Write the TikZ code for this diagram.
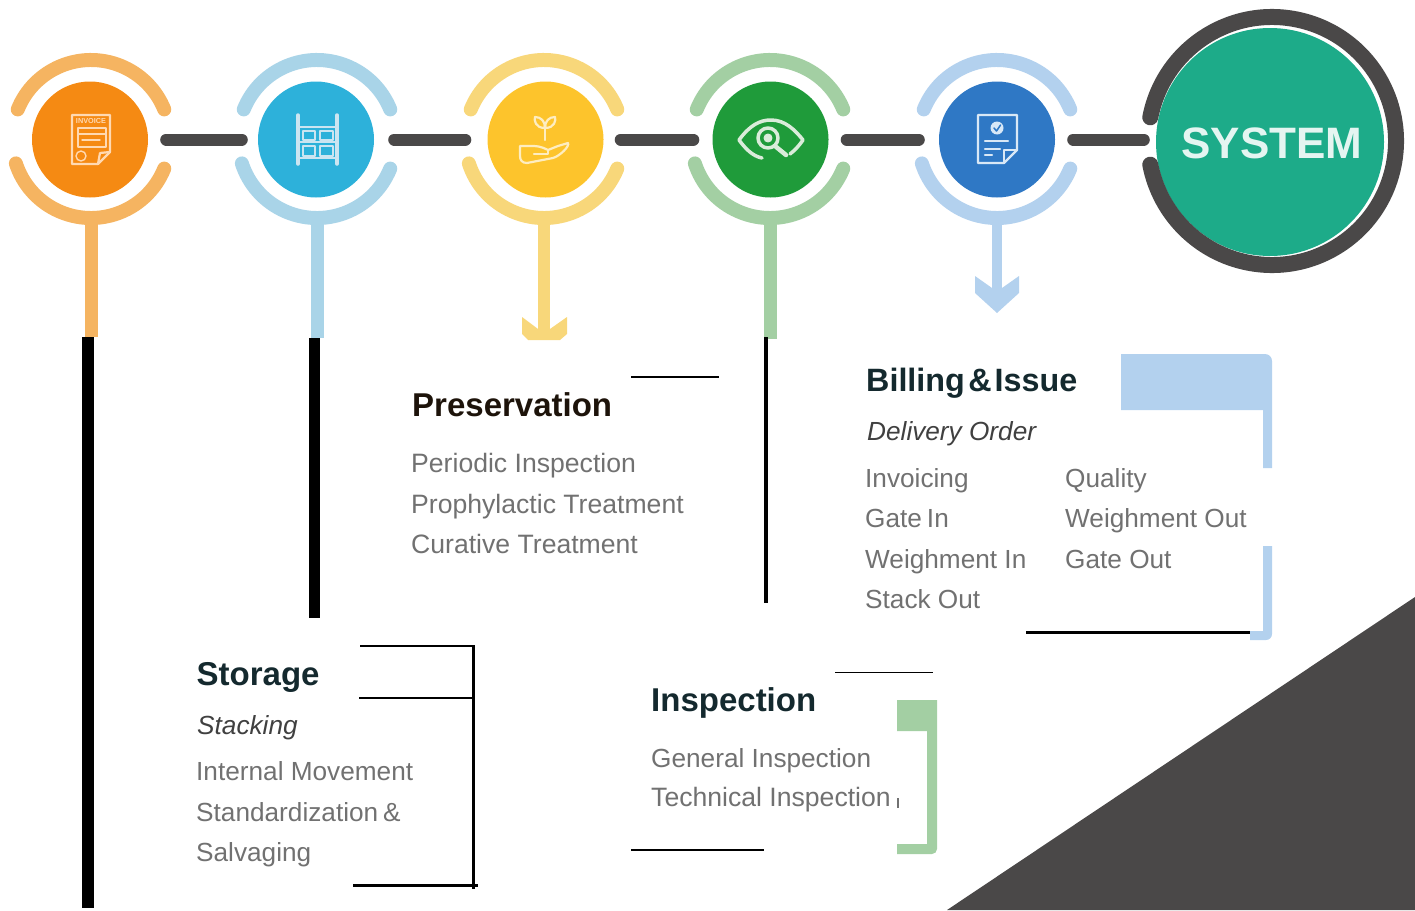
\documentclass[tikz,border=0pt]{standalone}
\usepackage{fontspec}
\setmainfont{Liberation Sans}
\definecolor{linkdark}{HTML}{4A4848}
\definecolor{orangefill}{HTML}{F58A13}
\definecolor{orangering}{HTML}{F5B461}
\definecolor{skyfill}{HTML}{2DB1DA}
\definecolor{skyring}{HTML}{A9D4E8}
\definecolor{yellowfill}{HTML}{FDC42C}
\definecolor{yellowring}{HTML}{F8D77A}
\definecolor{greenfill}{HTML}{1F9B3A}
\definecolor{greenring}{HTML}{A3CFA3}
\definecolor{bluefill}{HTML}{2F78C5}
\definecolor{bluering}{HTML}{B3D1EE}
\definecolor{systemfill}{HTML}{1DAB89}
\definecolor{titledark}{HTML}{14292E}
\definecolor{bodygrey}{HTML}{717171}
\begin{document}
\begin{tikzpicture}[x=1pt, y=1pt,
		disc/.style={circle, minimum size=116pt, inner sep=0pt},
		ring/.style={line width=14pt, line cap=round},
		stem/.style={line width=12.5pt, shorten <=20pt},
		link/.style={linkdark, line width=12pt, line cap=round},
		icon/.style={line width=2.2pt, line join=round, line cap=round},
		title/.style={anchor=base west, inner sep=0pt, text=titledark, font=\fontsize{33}{38}\selectfont\bfseries},
		subtitle/.style={anchor=base west, inner sep=0pt, text=black!75, font=\fontsize{26.2}{31}\selectfont\itshape},
		body/.style={anchor=base west, inner sep=0pt, text=bodygrey, font=\fontsize{26.6}{31}\selectfont},
		bodyright/.style={body, font=\fontsize{26.2}{31}\selectfont}]
		\useasboundingbox (0,0) rectangle (1415,-910);
		% Corner triangle
		\fill[linkdark] (947,-910) -- (1415,-597) -- (1415,-910) -- cycle;
		% Circles
		\node[disc, fill=orangefill] (invoice) at (90,-139.5) {};
		\node[disc, fill=skyfill] (storage) at (316,-139.5) {};
		\node[disc, fill=yellowfill] (preservation) at (545.5,-139.5) {};
		\node[disc, fill=greenfill] (inspection) at (770.5,-139.5) {};
		\node[disc, fill=bluefill] (billing) at (997,-139.5) {};
		\node[disc, minimum size=228pt, fill=systemfill] (system) at (1270,-142) {};
		\node[text=white!88!systemfill, inner sep=0pt, font=\fontsize{44}{50}\selectfont\bfseries] (systemword) at (1272,-143) {SYSTEM};
		% Rings
		\draw[ring, orangering] (91,-139) ++(158:79) arc (158:22:79);
		\draw[ring, orangering] (91,-139) ++(198:79) arc (198:338:79);
		\draw[ring, skyring] (317,-139) ++(158:79) arc (158:22:79);
		\draw[ring, skyring] (317,-139) ++(198:79) arc (198:338:79);
		\draw[ring, yellowring] (544,-139) ++(158:79) arc (158:22:79);
		\draw[ring, yellowring] (544,-139) ++(198:79) arc (198:338:79);
		\draw[ring, greenring] (770,-139) ++(158:79) arc (158:22:79);
		\draw[ring, greenring] (770,-139) ++(198:79) arc (198:338:79);
		\draw[ring, bluering] (997,-139) ++(158:79) arc (158:22:79);
		\draw[ring, bluering] (997,-139) ++(198:79) arc (198:338:79);
		\draw[linkdark, line width=16pt, line cap=round] (1272,-141) ++(169:124) arc (169:-169:124);
		% Links
		\draw[link, shorten <=18pt, shorten >=16pt] (invoice) -- (storage);
		\draw[link, shorten <=20pt, shorten >=22pt] (storage) -- (preservation);
		\draw[link, shorten <=17pt, shorten >=19pt] (preservation) -- (inspection);
		\draw[link, shorten <=18pt, shorten >=20pt] (inspection) -- (billing);
		\draw[link, shorten <=18pt, shorten >=12pt] (billing) -- (billing -| system.west);
		% Stems
		\coordinate (invoicefoot) at (91.5,-337);
		\coordinate (storagefoot) at (317.5,-338);
		\coordinate (preservationfoot) at (544,-330);
		\coordinate (inspectionfoot) at (770.5,-339);
		\coordinate (billingfoot) at (997,-295);
		\draw[stem, orangering] (invoicefoot |- invoice.south) -- (invoicefoot);
		\draw[stem, skyring] (storagefoot |- storage.south) -- (storagefoot);
		\draw[stem, yellowring] (preservationfoot |- preservation.south) -- (preservationfoot);
		\draw[stem, greenring] (inspectionfoot |- inspection.south) -- (inspectionfoot);
		\draw[stem, bluering, line width=10pt] (billingfoot |- billing.south) -- (billingfoot);
		\fill[yellowring] (522,-317) -- (538,-329) -- (550,-329) -- (567,-317) -- (567,-334) -- (560,-340) -- (528,-340) -- (522,-334) -- cycle;
		\fill[bluering] (975,-276) -- (992,-288) -- (1002,-288) -- (1019,-276) -- (1019,-293) -- (997,-313) -- (975,-293) -- cycle;
		% Black bars
		\draw[black, line width=12pt] (88,-337) -- (88,-908);
		\draw[black, line width=11pt] (314.5,-338) -- (314.5,-618);
		\draw[black, line width=3.5pt] (766,-337) -- (766,-603);
		% Icon on first circle
		\begin{scope}[icon, draw=orange!30!white]
			\draw (72,-115) -- (110,-115) -- (110,-152) -- (98,-164) -- (72,-164) -- cycle;
			\draw (110,-152) -- (100,-153) -- (98,-164);
			\node[inner sep=0pt, text=orange!30!white, font=\fontsize{7.3}{8}\selectfont\bfseries] (invoiceword) at (91,-121) {INVOICE};
			\draw[line width=1.4pt] (78,-128) rectangle (106,-147);
			\draw[line width=1.4pt] (78,-134) -- (106,-134) (82,-140) -- (100,-140);
			\draw[line width=1.4pt] (81,-156) circle (5);
		\end{scope}
		% Icon on second circle
		\begin{scope}[icon, draw=skyring!60!white]
			\draw[line width=3.5pt] (298,-115) -- (298,-164) (337,-115) -- (337,-164);
			\draw (298,-127) -- (337,-127) (298,-142) -- (337,-142) (298,-158) -- (337,-158);
			\draw[line width=1.8pt] (303,-131) rectangle (315,-140) (320,-131) rectangle (333,-140);
			\draw[line width=1.8pt] (303,-146) rectangle (315,-156) (320,-146) rectangle (333,-156);
		\end{scope}
		% Icon on third circle
		\begin{scope}[icon, draw=yellowfill!30!white]
			\draw (545,-140) -- (545,-125);
			\draw (545,-128) .. controls (535,-128) and (534,-120) .. (535,-117) .. controls (541,-117) and (545,-121) .. (545,-128);
			\draw (545,-128) .. controls (555,-128) and (556,-120) .. (555,-117) .. controls (549,-117) and (545,-121) .. (545,-128);
			\draw (520,-146) -- (534,-146) .. controls (540,-146) and (546,-149) .. (548,-150) -- (558,-146) -- (568,-143) .. controls (570,-146) and (560,-156) .. (553,-158) -- (527,-163) .. controls (522,-163) and (520,-160) .. (520,-156) -- cycle;
			\draw (534,-154) -- (548,-154) -- (548,-150);
		\end{scope}
		% Icon on fourth circle
		\begin{scope}[icon, draw=greenring!40!white, line width=3.5pt]
			\draw (762,-158) .. controls (752,-156) and (745,-148) .. (739,-140) .. controls (750,-125) and (760,-120) .. (771,-120) .. controls (785,-120) and (795,-130) .. (803,-140) .. controls (798,-147) and (795,-150) .. (790,-154);
			\draw (768,-138) circle (10);
			\draw[fill=greenring!40!white, line width=1pt] (768,-138) circle (4);
			\draw[line width=4.5pt] (775,-146) -- (786,-155);
		\end{scope}
		% Icon on fifth circle
		\begin{scope}[icon, draw=bluering!50!white]
			\draw (978,-115) -- (1017,-115) -- (1017,-150) -- (1004,-163) -- (978,-163) -- cycle;
			\draw (1017,-150) -- (1004,-150) -- (1004,-163);
			\fill[bluering!50!white] (997,-128) circle (6.5);
			\draw[bluefill, line width=1.5pt] (994,-128) -- (996.5,-131) -- (1000.5,-125);
			\draw (985,-141) -- (1008,-141) (985,-149) -- (1000,-149) (985,-155) -- (992,-155);
		\end{scope}
		% Preservation text
		\draw[black, line width=1.2pt] (631,-377) -- (719,-377);
		\node[title, text=black!85!brown] (preservationtitle) at (412,-416) {Preservation};
		\node[body] (periodic) at (411,-472) {Periodic Inspection};
		\node[body] (prophylactic) at (411,-513) {Prophylactic Treatment};
		\node[body] (curative) at (411,-553) {Curative Treatment};
		% Billing text
		\fill[bluering] (1121,-354) [rounded corners=7pt] -- (1272,-354) [sharp corners] -- (1272,-468) -- (1263,-468) -- (1263,-410) -- (1121,-410) -- cycle;
		\fill[bluering] (1263,-546) -- (1272,-546) [rounded corners=6pt] -- (1272,-640) [sharp corners] -- (1250,-640) -- (1250,-631) -- (1263,-631) -- cycle;
		\draw[black, line width=3.5pt] (1026,-632.5) -- (1250,-632.5);
		\node[title, font=\fontsize{32.3}{38}\selectfont\bfseries] (billingtitle) at (866,-391) {Billing\hspace{3.5pt}\&\hspace{3pt}Issue};
		\node[subtitle] (delivery) at (867,-440) {Delivery Order};
		\node[bodyright] (invoicing) at (865,-487) {Invoicing};
		\node[bodyright] (gatein) at (865,-527) {Gate\hspace{5pt}In};
		\node[bodyright] (weighin) at (865,-568) {Weighment In};
		\node[bodyright] (stackout) at (865,-608) {Stack Out};
		\node[bodyright] (quality) at (1065,-487) {Quality};
		\node[bodyright] (weighout) at (1065,-527) {Weighment Out};
		\node[bodyright] (gateout) at (1065,-568) {Gate Out};
		% Storage text
		\draw[black, line width=1.2pt] (360,-646) -- (475,-646);
		\draw[black, line width=2pt] (359,-698) -- (473,-698);
		\draw[black, line width=3.5pt] (473.5,-645) -- (473.5,-889);
		\draw[black, line width=3.5pt] (353,-885.5) -- (478,-885.5);
		\node[title] (storagetitle) at (196.5,-685) {Storage};
		\node[subtitle] (stacking) at (197,-734) {Stacking};
		\node[bodyright] (internal) at (196,-780) {Internal Movement};
		\node[bodyright] (standard) at (196,-821) {Standardization\hspace{5pt}\&};
		\node[bodyright] (salvaging) at (196,-861) {Salvaging};
		% Inspection text
		\draw[black, line width=1.2pt] (835,-672.5) -- (933,-672.5);
		\draw[black, line width=1.2pt] (631,-850) -- (764,-850);
		\fill[greenring] (897,-700) -- (937,-700) [rounded corners=5pt] -- (937,-854) [sharp corners] -- (897,-854) -- (897,-844) -- (927,-844) -- (927,-731) -- (897,-731) -- cycle;
		\draw[bodygrey, line width=1.2pt] (898,-798) -- (898,-808);
		\node[title] (inspectiontitle) at (651,-711) {Inspection};
		\node[bodyright] (general) at (651,-767) {General Inspection};
		\node[body] (technical) at (651,-806) {Technical Inspection};
	\end{tikzpicture}
\end{document}
